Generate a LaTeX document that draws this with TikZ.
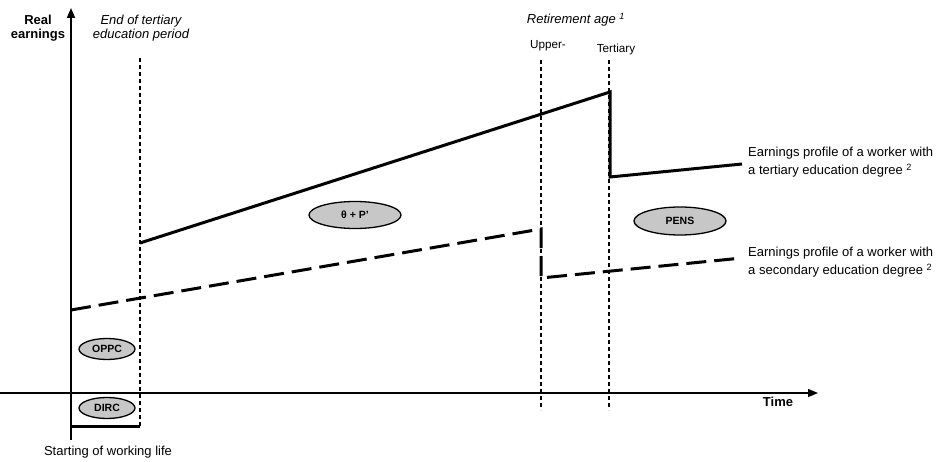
\documentclass[tikz,border=0pt]{standalone}
\usepackage{fontspec}
\setmainfont{Liberation Sans}
\usetikzlibrary{arrows.meta,shapes.geometric}
\begin{document}
\begin{tikzpicture}[x=1pt,y=-1pt,
  axisline/.style={line width=1.8pt},
  xaxisline/.style={line width=1.3pt},
  thindash/.style={line width=1.3pt, dash pattern=on 4pt off 3pt},
  profsolid/.style={line width=3pt, line join=miter},
  profdash/.style={line width=3pt, dash pattern=on 20pt off 8pt},
  bubble/.style={ellipse, draw, fill=black!22, line width=1.3pt, inner sep=0pt,
     font=\bfseries\fontsize{10.5}{12}\selectfont},
  lbl/.style={inner sep=0pt, font=\fontsize{13}{14}\selectfont},
  smalllbl/.style={inner sep=0pt, font=\fontsize{11.7}{14}\selectfont},
  boldlbl/.style={inner sep=0pt, align=center, font=\bfseries\fontsize{13}{14}\selectfont},
  tip/.style={-{Triangle[length=10pt,width=8pt]}}
]
\useasboundingbox (0,0) rectangle (936,462);

% axes
\coordinate (yb) at (71,440);
\coordinate (yt) at (71,8);
\coordinate (xl) at (0,393);
\coordinate (xr) at (818,393);
\draw[axisline,tip] (yb) -- (yt);
\draw[xaxisline,tip] (xl) -- (xr);

% vertical reference lines
\coordinate (et-top) at (140,58);
\coordinate (et-bot) at (140,426);
\coordinate (up-top) at (541,60);
\coordinate (up-bot) at (541,410);
\coordinate (te-top) at (609,60);
\coordinate (te-bot) at (609,410);
\draw[thindash] (et-top) -- (et-bot);
\draw[thindash] (up-top) -- (up-bot);
\draw[thindash] (te-top) -- (te-bot);

% DIRC bar
\coordinate (dirc-l) at (71,426);
\draw[line width=3pt] (dirc-l) -- (et-bot);

% earnings profiles
\coordinate (t0) at (140,243);
\coordinate (t1) at (610,92);
\coordinate (t2) at (610,177);
\coordinate (t3) at (742,164);
\draw[profsolid] (t0) -- (t1) -- (t2) -- (t3);

\coordinate (s0) at (71,310);
\coordinate (s1) at (541,229);
\coordinate (s2) at (541,278);
\coordinate (s3) at (742,258);
\draw[profdash] (s0) -- (s1) -- (s2) -- (s3);

% bubbles
\node[bubble, minimum width=56pt, minimum height=21pt] (oppc) at (107,349) {OPPC};
\node[bubble, minimum width=56pt, minimum height=21pt] (dirc) at (107,408) {DIRC};
\node[bubble, minimum width=92pt, minimum height=27pt] (theta) at (355,215) {θ + P'};
\node[bubble, minimum width=92pt, minimum height=28pt] (pens) at (680,221) {PENS};

% labels
\node[boldlbl] (real) at (38,28) {Real\\earnings};
\node[lbl, align=center, font=\itshape\fontsize{13}{14}\selectfont] (endte) at (141,28) {End of tertiary\\education period};
\node[lbl, font=\itshape\fontsize{13}{14}\selectfont] (retire) at (576,20) {Retirement age \textsuperscript{1}};
\node[smalllbl, anchor=base] (upper) at (548,49) {Upper-};
\node[smalllbl, anchor=base] (tert) at (616,53) {Tertiary};
\node[boldlbl] (time) at (778,402) {Time};
\node[lbl] (start) at (108,452) {Starting of working life};
\node[lbl, anchor=west, align=left, font=\fontsize{13}{18}\selectfont] (lt) at (748,162) {Earnings profile of a worker with\\a tertiary education degree \textsuperscript{2}};
\node[lbl, anchor=west, align=left, font=\fontsize{13}{18}\selectfont] (ls) at (748,262) {Earnings profile of a worker with\\a secondary education degree \textsuperscript{2}};
\end{tikzpicture}
\end{document}
